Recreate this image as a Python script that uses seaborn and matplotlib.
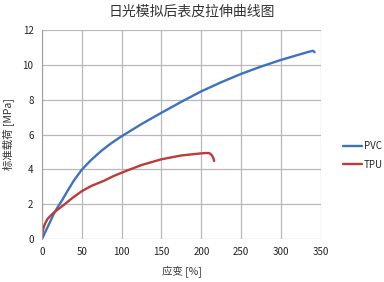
import numpy as np
import pandas as pd
import matplotlib
matplotlib.use('Agg')
import matplotlib.pyplot as plt
import seaborn as sns

# 数据
pvc_strain = [0, 2, 5, 10, 15, 20, 25, 32, 40, 50, 62, 75, 87, 100, 125, 150, 175, 200, 225, 250, 275, 300, 320, 335, 340, 342]
pvc_stress = [0, 0.18, 0.48, 0.96, 1.45, 1.85, 2.2, 2.75, 3.35, 3.98, 4.55, 5.08, 5.5, 5.9, 6.6, 7.25, 7.88, 8.48, 9.0, 9.48, 9.9, 10.28, 10.55, 10.75, 10.8, 10.72]
tpu_strain = [0, 1, 3, 5, 7, 10, 15, 20, 28, 38, 50, 62, 78, 90, 105, 125, 150, 175, 200, 206, 210, 213, 215, 216]
tpu_stress = [0, 0.45, 0.78, 0.98, 1.15, 1.3, 1.52, 1.7, 1.98, 2.35, 2.75, 3.05, 3.35, 3.62, 3.9, 4.25, 4.58, 4.8, 4.92, 4.94, 4.93, 4.82, 4.65, 4.48]

sns.set_style('whitegrid')
plt.rcParams['font.family'] = ['Noto Sans CJK SC', 'DejaVu Sans']

df = pd.concat([
    pd.DataFrame({'应变': pvc_strain, '载荷': pvc_stress, '材料': 'PVC'}),
    pd.DataFrame({'应变': tpu_strain, '载荷': tpu_stress, '材料': 'TPU'}),
])

fig = plt.figure(figsize=(3.84, 2.82), dpi=100)
ax = fig.add_axes([0.109, 0.152, 0.727, 0.742])
sns.lineplot(data=df, x='应变', y='载荷', hue='材料', sort=False,
             palette={'PVC': '#3D72BE', 'TPU': '#BE3A38'}, linewidth=1.7, ax=ax)

ax.set_xlim(0, 350)
ax.set_ylim(0, 12)
ax.set_xticks(range(0, 351, 50))
ax.set_yticks(range(0, 13, 2))
ax.grid(True, color='#B8B8B8', linewidth=0.9)
for s in ['top', 'right', 'bottom']:
    ax.spines[s].set_visible(False)
ax.spines['left'].set_color('#A0A0A0')
ax.tick_params(axis='both', labelsize=7, length=0, pad=6, colors='#222222')
ax.set_xlabel('应变 [%]', fontsize=7.5, color='#333333', labelpad=6)
ax.set_ylabel('标准载荷 [MPa]', fontsize=7.5, color='#333333', labelpad=6)
fig.suptitle('日光模拟后表皮拉伸曲线图', fontsize=10, color='#333333', y=0.985)

leg = ax.legend(loc='center left', bbox_to_anchor=(1.075, 0.40), frameon=False,
                fontsize=7, handlelength=2.0, handletextpad=0.15, labelspacing=0.9,
                borderaxespad=0, borderpad=0.1)

fig.savefig('out.png', dpi=100)
